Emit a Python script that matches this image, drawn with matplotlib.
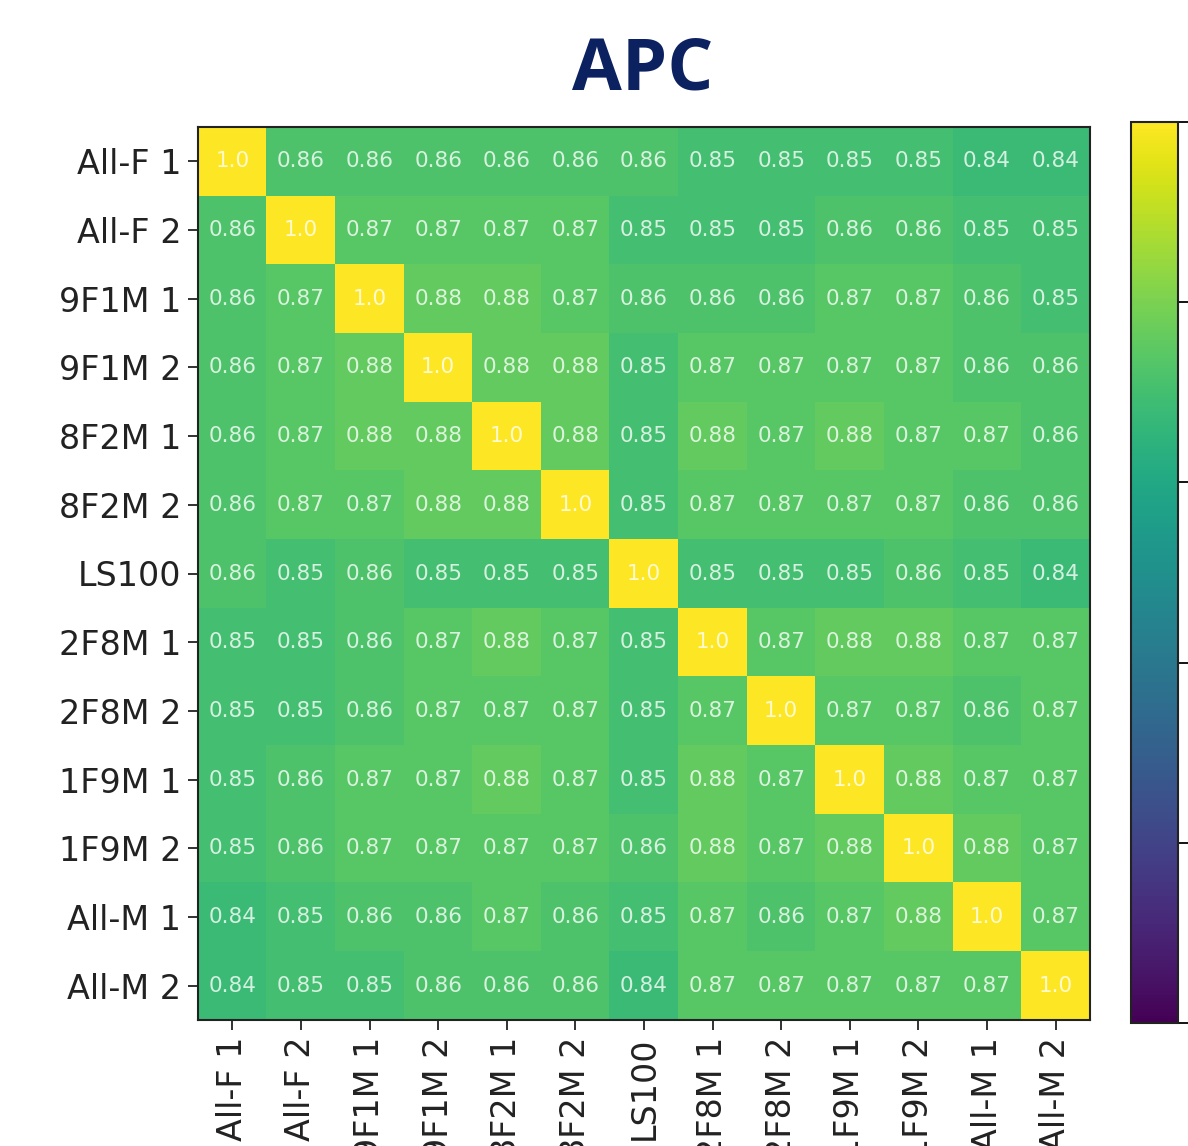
import matplotlib
matplotlib.use('Agg')
import matplotlib.pyplot as plt
import numpy as np

labels = ['All-F 1', 'All-F 2', '9F1M 1', '9F1M 2', '8F2M 1', '8F2M 2', 'LS100',
          '2F8M 1', '2F8M 2', '1F9M 1', '1F9M 2', 'All-M 1', 'All-M 2']

row_allf1 = [1.0, 0.86, 0.86, 0.86, 0.86, 0.86, 0.86, 0.85, 0.85, 0.85, 0.85, 0.84, 0.84]
row_allf2 = [0.86, 1.0, 0.87, 0.87, 0.87, 0.87, 0.85, 0.85, 0.85, 0.86, 0.86, 0.85, 0.85]
row_9f1m1 = [0.86, 0.87, 1.0, 0.88, 0.88, 0.87, 0.86, 0.86, 0.86, 0.87, 0.87, 0.86, 0.85]
row_9f1m2 = [0.86, 0.87, 0.88, 1.0, 0.88, 0.88, 0.85, 0.87, 0.87, 0.87, 0.87, 0.86, 0.86]
row_8f2m1 = [0.86, 0.87, 0.88, 0.88, 1.0, 0.88, 0.85, 0.88, 0.87, 0.88, 0.87, 0.87, 0.86]
row_8f2m2 = [0.86, 0.87, 0.87, 0.88, 0.88, 1.0, 0.85, 0.87, 0.87, 0.87, 0.87, 0.86, 0.86]
row_ls100 = [0.86, 0.85, 0.86, 0.85, 0.85, 0.85, 1.0, 0.85, 0.85, 0.85, 0.86, 0.85, 0.84]
row_2f8m1 = [0.85, 0.85, 0.86, 0.87, 0.88, 0.87, 0.85, 1.0, 0.87, 0.88, 0.88, 0.87, 0.87]
row_2f8m2 = [0.85, 0.85, 0.86, 0.87, 0.87, 0.87, 0.85, 0.87, 1.0, 0.87, 0.87, 0.86, 0.87]
row_1f9m1 = [0.85, 0.86, 0.87, 0.87, 0.88, 0.87, 0.85, 0.88, 0.87, 1.0, 0.88, 0.87, 0.87]
row_1f9m2 = [0.85, 0.86, 0.87, 0.87, 0.87, 0.87, 0.86, 0.88, 0.87, 0.88, 1.0, 0.88, 0.87]
row_allm1 = [0.84, 0.85, 0.86, 0.86, 0.87, 0.86, 0.85, 0.87, 0.86, 0.87, 0.88, 1.0, 0.87]
row_allm2 = [0.84, 0.85, 0.85, 0.86, 0.86, 0.86, 0.84, 0.87, 0.87, 0.87, 0.87, 0.87, 1.0]

rows = [row_allf1, row_allf2, row_9f1m1, row_9f1m2, row_8f2m1, row_8f2m2, row_ls100,
        row_2f8m1, row_2f8m2, row_1f9m1, row_1f9m2, row_allm1, row_allm2]
data = np.array(rows)

W, H = 1188, 1146
fig = plt.figure(figsize=(W / 100, H / 100), dpi=100)

# heatmap axes (pixel box from the reference)
ax = fig.add_axes([198 / W, 1 - 1020 / H, (1090 - 198) / W, (1020 - 127) / H])
im = ax.imshow(data, cmap='viridis', vmin=0.5, vmax=1.0, aspect='auto')

n = len(labels)
for i in range(n):
    for j in range(n):
        ax.text(j, i, str(rows[i][j]), ha='center', va='center',
                color='white', alpha=0.78, fontsize=15.5)

ax.set_xticks(range(n))
ax.set_yticks(range(n))
ax.set_xticklabels(labels, rotation=90, fontsize=24)
ax.set_yticklabels(labels, fontsize=24)
ax.tick_params(length=7, width=1.3, color='#222222', labelcolor='#222222', pad=5)
for s in ax.spines.values():
    s.set_linewidth(1.5)
    s.set_color('#222222')

# colorbar; its labels are outside the cropped reference, so left blank
cax = fig.add_axes([1131 / W, 1 - 1023 / H, (1178 - 1131) / W, (1023 - 122) / H])
cb = fig.colorbar(im, cax=cax, ticks=[0.5, 0.6, 0.7, 0.8, 0.9, 1.0])
cb.outline.set_linewidth(1.5)
cb.outline.set_edgecolor('#222222')
cax.tick_params(length=7, width=1.3)
cax.set_yticklabels([])

fig.text(643 / W, 1 - 70 / H, 'APC', ha='center', va='center',
         fontsize=52, fontweight='bold', color='#0c2160', family='Open Sans')

fig.savefig('out.png', dpi=100)
